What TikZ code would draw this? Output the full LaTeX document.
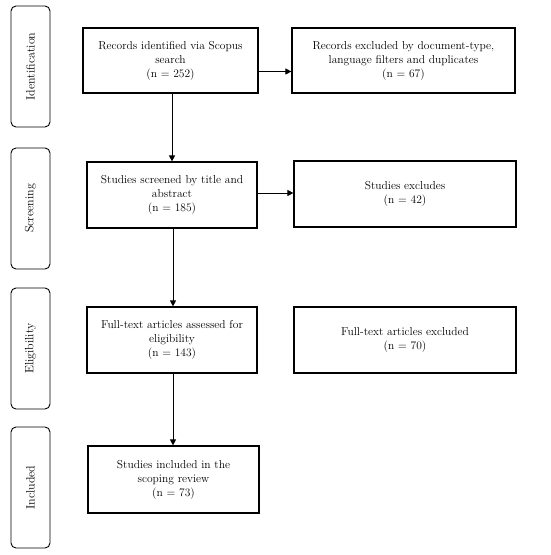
\documentclass[tikz,border=0pt]{standalone}
\usetikzlibrary{arrows.meta}
\begin{document}
\begin{tikzpicture}[x=1pt,y=1pt,
  box/.style={draw=black, line width=1.2pt, align=center, inner sep=2pt,
    font=\fontsize{11.5}{14}\selectfont},
  phase/.style={draw=black, line width=0.9pt, rounded corners=5pt,
    minimum width=39pt, minimum height=121pt, inner sep=0pt},
  phasetxt/.style={rotate=90, font=\fontsize{12}{14}\selectfont},
  arr/.style={line width=1pt, -{Triangle[length=6pt,width=6pt]}}]
\useasboundingbox (0,0) rectangle (550,-555);
% phase boxes
\node[phase] (p1) at (30.5,-66.5) {};
\node[phasetxt] (p1t) at (p1.center) {Identification};
\node[phase] (p2) at (30.5,-208.5) {};
\node[phasetxt] (p2t) at (p2.center) {Screening};
\node[phase] (p3) at (30.5,-348.5) {};
\node[phasetxt] (p3t) at (p3.center) {Eligibility};
\node[phase] (p4) at (30.5,-487.5) {};
\node[phasetxt] (p4t) at (p4.center) {Included};
% main boxes
\node[box, minimum width=175pt, minimum height=65pt] (A) at (170.5,-60.5)
  {Records identified via Scopus\\ search\\ (n = 252)};
\node[box, minimum width=223pt, minimum height=65pt] (B) at (403.5,-60.5)
  {Records excluded by document-type,\\ language filters and duplicates\\ (n = 67)};
\node[box, minimum width=170pt, minimum height=66pt] (C) at (172,-195)
  {Studies screened by title and\\ abstract\\ (n = 185)};
\node[box, minimum width=222pt, minimum height=66pt] (D) at (405,-194)
  {Studies excludes\\ (n = 42)};
\node[box, minimum width=170pt, minimum height=66pt] (E) at (172,-340)
  {Full-text articles assessed for\\ eligibility\\ (n = 143)};
\node[box, minimum width=222pt, minimum height=66pt] (F) at (405,-340)
  {Full-text articles excluded\\ (n = 70)};
\node[box, minimum width=171pt, minimum height=67pt] (G) at (173.5,-479.5)
  {Studies included in the\\ scoping review\\ (n = 73)};
% connectors
\draw[arr] ([yshift=-11pt]A.east) -- ([yshift=-11pt]A.east -| B.west);
\draw[arr] ([yshift=2pt]C.east) -- ([yshift=2pt]C.east -| D.west);
\draw[arr] (A.south -| 172,0) -- (C.north -| 172,0);
\draw[arr] (C.south -| 173,0) -- (E.north -| 173,0);
\draw[arr] (E.south -| 173,0) -- (G.north -| 173,0);
\end{tikzpicture}
\end{document}
